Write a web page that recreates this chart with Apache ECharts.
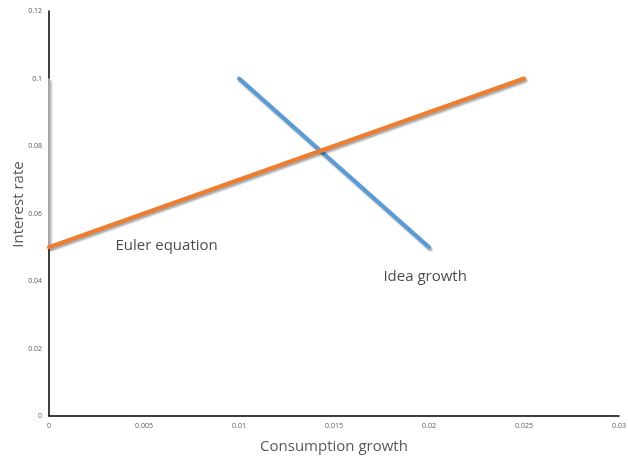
<!DOCTYPE html>
<html>
<head>
<meta charset="utf-8">
<script src="https://cdn.jsdelivr.net/npm/echarts@6/dist/echarts.min.js"></script>
<style>
  html, body { margin: 0; padding: 0; background: #fff; }
  #chart { width: 628px; height: 457px; }
</style>
</head>
<body>
<div id="chart"></div>
<script>
// Curve endpoints: [consumption growth, interest rate]
const eulerCurve = [[0, 0.05], [0.025, 0.1]];
const ideaCurve = [[0.01, 0.1], [0.02, 0.05]];
const axisSegment = [[0, 0.1], [0, 0.05]];

// Curve captions anchored in data space
const captions = [
  { text: 'Euler equation', at: [0.0035, 0.0504] },
  { text: 'Idea growth', at: [0.0176, 0.0412] }
];

const xTicks = { min: 0, max: 0.03, step: 0.005 };
const yTicks = { min: 0, max: 0.12, step: 0.02 };

const FONT = '"Open Sans", sans-serif';
const shadow = {
  shadowColor: 'rgba(0,0,0,0.35)',
  shadowBlur: 2,
  shadowOffsetX: 1.5,
  shadowOffsetY: 2
};

const chart = echarts.init(document.getElementById('chart'));
chart.setOption({
  animation: false,
  grid: { left: 49, right: 9, top: 11, bottom: 41, outerBoundsMode: 'none', containLabel: false },
  xAxis: {
    type: 'value',
    min: xTicks.min, max: xTicks.max, interval: xTicks.step,
    name: 'Consumption growth',
    nameLocation: 'middle',
    nameGap: 23,
    nameMoveOverlap: false,
    nameTextStyle: { fontFamily: FONT, fontSize: 15, color: '#595959' },
    axisLine: { lineStyle: { color: '#000', width: 1.5 } },
    axisTick: { show: false },
    splitLine: { show: false },
    axisLabel: {
      fontFamily: FONT, fontSize: 7, color: '#595959', margin: 6,
      formatter: v => String(+v.toFixed(3))
    }
  },
  yAxis: {
    type: 'value',
    min: yTicks.min, max: yTicks.max, interval: yTicks.step,
    name: 'Interest rate',
    nameLocation: 'middle',
    nameGap: 23,
    nameMoveOverlap: false,
    nameTextStyle: { fontFamily: FONT, fontSize: 15, color: '#595959', padding: [0, 0, 0, 18] },
    axisLine: { show: true, lineStyle: { color: '#000', width: 1.5 } },
    axisTick: { show: false },
    splitLine: { show: false },
    axisLabel: {
      fontFamily: FONT, fontSize: 7, color: '#595959', margin: 7,
      formatter: v => String(+v.toFixed(2))
    }
  },
  series: [
    {
      type: 'line', data: axisSegment, symbol: 'none',
      lineStyle: Object.assign({ color: '#a6a6a6', width: 2 }, shadow)
    },
    {
      type: 'line', data: ideaCurve, symbol: 'none',
      lineStyle: Object.assign({ color: '#5b9bd5', width: 4, cap: 'round' }, shadow)
    },
    {
      type: 'line', data: eulerCurve, symbol: 'none',
      lineStyle: Object.assign({ color: '#ed7d31', width: 4, cap: 'round' }, shadow)
    },
    {
      type: 'scatter', symbolSize: 0, silent: true,
      data: captions.map(c => ({ value: c.at, name: c.text })),
      label: {
        show: true, position: 'right', distance: 0,
        formatter: p => p.name,
        fontFamily: FONT, fontSize: 15, color: '#1a1a1a'
      }
    }
  ]
});
</script>
</body>
</html>
